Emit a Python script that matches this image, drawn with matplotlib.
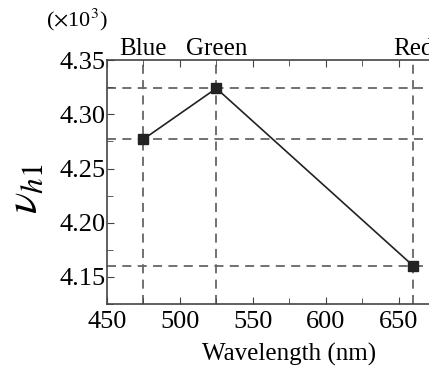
import matplotlib
matplotlib.use("Agg")
import matplotlib.pyplot as plt
from matplotlib.ticker import MultipleLocator

plt.rcParams["font.family"] = ["Liberation Serif", "DejaVu Serif"]
plt.rcParams["mathtext.fontset"] = "stix"

# data
colors = ["Blue", "Green", "Red"]
wavelength = [475, 525, 660]
v_h1 = [4.277, 4.324, 4.160]

fig = plt.figure(figsize=(4.29, 3.69), dpi=100)
ax = fig.add_axes([0.249, 0.176, 0.851, 0.661])

# guide lines through each point
for x, y in zip(wavelength, v_h1):
    ax.axvline(x, color="#666666", lw=1.3, ls=(0, (5, 3.5)), zorder=1)
    ax.axhline(y, color="#666666", lw=1.3, ls=(0, (5, 3.5)), zorder=1)

ax.plot(wavelength, v_h1, color="#222222", lw=1.2, marker="s", ms=6.5,
        mfc="#222222", mec="#222222", zorder=3)

ax.set_xlim(450, 700)
ax.set_ylim(4.125, 4.35)
ax.xaxis.set_minor_locator(MultipleLocator(25))
ax.yaxis.set_major_locator(MultipleLocator(0.05))
ax.yaxis.set_minor_locator(MultipleLocator(0.025))
ax.set_xticks([450, 500, 550, 600, 650])
ax.yaxis.set_major_formatter(plt.FuncFormatter(lambda v, p: f"{v:.2f}"))
ax.tick_params(labelsize=19)
ax.tick_params(which="major", length=5, direction="out", color="#444444")
ax.tick_params(which="minor", length=4, direction="in", color="#444444")
ax.tick_params(top=True, which="both", direction="in")
ax.tick_params(axis="x", pad=5)
ax.tick_params(axis="y", pad=1)
for s in ax.spines.values():
    s.set_color("#444444")
    s.set_linewidth(1.2)

top = ax.secondary_xaxis("top")
top.set_xticks(wavelength)
top.set_xticklabels(colors)
top.tick_params(length=0, labelsize=18, pad=0)
top.spines["top"].set_visible(False)

ax.set_xlabel("Wavelength (nm)", fontsize=18, labelpad=7)
fig.text(0.06, 0.49, r"$\mathit{\nu}_{\mathit{h1}}$", fontsize=32, rotation=90,
         ha="center", va="center")
fig.text(0.18, 0.945, r"($\times$10$^3$)", fontsize=16, ha="center", va="center")

fig.savefig("out.png", dpi=100)
